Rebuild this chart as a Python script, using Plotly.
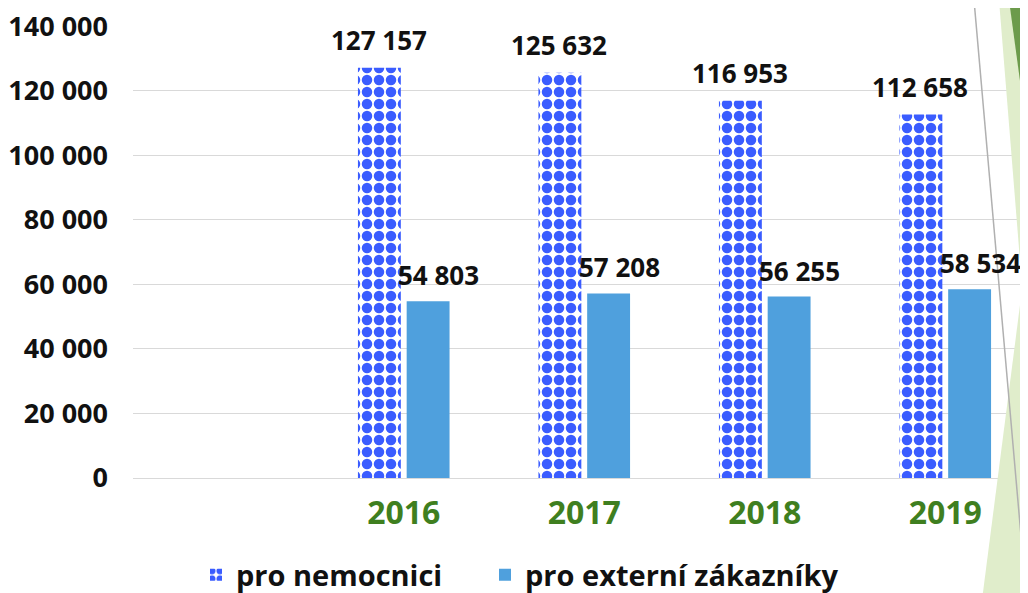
import plotly.graph_objects as go

# ---- data ----
categories = ["", "2016", "2017", "2018", "2019"]
pro_nemocnici = [None, 127157, 125632, 116953, 112658]
pro_externi = [None, 54803, 57208, 56255, 58534]
series_names = ["pro nemocnici", "pro externí zákazníky"]
y_ticks = [0, 20000, 40000, 60000, 80000, 100000, 120000, 140000]

FONT = "Open Sans"
x_pos = list(range(len(categories)))

# page body has an 8px margin: figure is laid out in screen pixels minus 8
OFF = 8
FW, FH = 1028 - OFF, 593 - OFF
L, R, T = 133 - OFF, 0, 26 - OFF
B = FH - (478 - OFF)
PW, PH = FW - L - R, FH - T - B

fig = go.Figure()
fig.add_trace(go.Bar(
    x=x_pos, y=pro_nemocnici, name=series_names[0], legend="legend",
    marker=dict(color="white", line=dict(width=0),
                pattern=dict(shape=".", fgcolor="#3A5CFF", bgcolor="white",
                             size=12, solidity=0.6, fillmode="replace")),
))
fig.add_trace(go.Bar(
    x=x_pos, y=pro_externi, name=series_names[1], legend="legend2",
    marker=dict(color="#4FA0DD", line=dict(width=0)),
))

def fmt(v):
    return f"{v:,}".replace(",", " ")

LBL = dict(family=FONT, size=26, color="#111111", weight="bold")
annotations = []
for i, (a, b) in enumerate(zip(pro_nemocnici, pro_externi)):
    if a is not None:
        annotations.append(dict(x=i, y=a, xref="x", yref="y", text=fmt(a),
                                showarrow=False, xshift=-25, yshift=28,
                                yanchor="middle", font=LBL))
    if b is not None:
        annotations.append(dict(x=i, y=b, xref="x", yref="y", text=fmt(b),
                                showarrow=False, xshift=35, yshift=26,
                                yanchor="middle", font=LBL))

# slide decorations on the right (screen pixel coordinates)
deco = [
    ("M 999 0 L 1040 0 L 1040 360 L 1028 360 Z", "#E0EDCB", None),
    ("M 1028 243 L 1040 243 L 1040 600 L 982 600 Z", "#E0EDCB", None),
    ("M 1009 0 L 1040 0 L 1040 140 L 1028 140 Z", "#6C9B4B", None),
    ("M 974 0 L 1026 593", None, "#B0B0B0"),
]

def px_path(path):
    out = []
    toks = path.split()
    i = 0
    while i < len(toks):
        t = toks[i]
        if t in ("M", "L"):
            x = (float(toks[i + 1]) - OFF - L) / PW
            y = 1 - (float(toks[i + 2]) - OFF - T) / PH
            out.append(f"{t} {x:.5f} {y:.5f}")
            i += 3
        else:
            out.append(t)
            i += 1
    return " ".join(out)

shapes = []
for p, fill, line in deco:
    s = dict(type="path", xref="paper", yref="paper", layer="above", path=px_path(p))
    if fill:
        s["fillcolor"] = fill
        s["line"] = dict(width=0)
    else:
        s["line"] = dict(color=line, width=1.5)
    shapes.append(s)

LEG = dict(family=FONT, size=29, color="#111111", weight="bold")
LEG_Y = (FH - (575 - OFF)) / FH
fig.update_layout(
    width=FW, height=FH,
    margin=dict(l=L, r=R, t=T, b=B, pad=0),
    paper_bgcolor="white", plot_bgcolor="white",
    barmode="group", bargap=0.46, bargroupgap=0.12,
    separators=", ",
    font=dict(family=FONT, color="#111111"),
    annotations=annotations,
    shapes=shapes,
    showlegend=True,
    legend=dict(orientation="h", xref="container", yref="container",
                x=(238 - OFF - 42) / FW, xanchor="left", y=LEG_Y, yanchor="middle",
                font=LEG, itemwidth=30, bgcolor="rgba(0,0,0,0)"),
    legend2=dict(orientation="h", xref="container", yref="container",
                 x=(527 - OFF - 42) / FW, xanchor="left", y=LEG_Y, yanchor="middle",
                 font=LEG, itemwidth=30, bgcolor="rgba(0,0,0,0)"),
)
fig.update_xaxes(
    range=[-0.5, -0.5 + PW / 180.5],
    tickvals=x_pos[1:], ticktext=categories[1:],
    showgrid=False, zeroline=False, showline=False, ticks="",
    ticklabelstandoff=13,
    tickfont=dict(family=FONT, size=32, color="#3F7F1F", weight="bold"),
    fixedrange=True,
)
fig.update_yaxes(
    range=[0, 140100], tickvals=y_ticks, tickformat=",d",
    showgrid=True, gridcolor="#D9D9D9", gridwidth=1,
    zeroline=True, zerolinecolor="#D9D9D9", zerolinewidth=1,
    showline=False, ticks="",
    ticklabelstandoff=24, ticklabeloverflow="allow",
    tickfont=dict(family=FONT, size=27, color="#111111", weight="bold"),
    fixedrange=True,
)

fig.write_html("out.html", config=dict(displayModeBar=False))
